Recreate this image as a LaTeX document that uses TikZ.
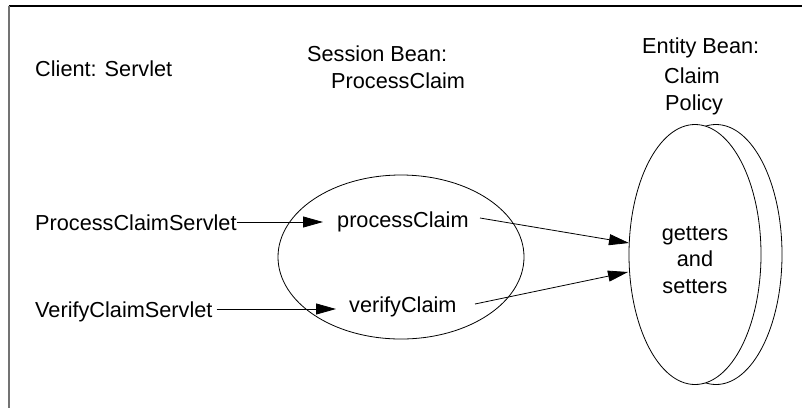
\documentclass[tikz,border=0pt]{standalone}
\usepackage{fontspec}
\setmainfont{Liberation Sans}
\usetikzlibrary{shapes.geometric,arrows.meta}
\tikzset{
  lbl/.style={anchor=base west, inner sep=0pt, font=\fontsize{21.7}{26}\selectfont},
  clbl/.style={anchor=base, inner sep=0pt, font=\fontsize{21.7}{26}\selectfont},
  bean/.style={draw, ellipse, inner sep=0pt, line width=0.8pt},
  arr/.style={line width=0.8pt, -{Triangle[length=20pt,width=11pt]}},
}
\begin{document}
\begin{tikzpicture}[x=1pt,y=-1pt]
\useasboundingbox (0,0) rectangle (802,408);
% frame
\coordinate (tl) at (8.5,6);
\coordinate (tr) at (802,6);
\coordinate (bl) at (8.5,408);
\draw[line width=1.3pt] (tl) -- (tr);
\draw[line width=2pt, color=black!55] (tl) -- (bl);

% headings
\node[lbl] (client) at (35,76) {Client: Servlet};
\node[lbl] (sb) at (307,61) {Session Bean:};
\node[lbl] (pcname) at (331,88) {ProcessClaim};
\node[lbl] (eb) at (642,53) {Entity Bean:};
\node[lbl] (claim) at (664,83) {Claim};
\node[lbl] (policy) at (665,110) {Policy};

% ellipses
\node[bean, minimum width=246pt, minimum height=164pt] (sess) at (401,257) {};
\node[bean, minimum width=132pt, minimum height=260pt] (entback) at (716,254.5) {};
\node[bean, fill=white, minimum width=132pt, minimum height=260pt] (ent) at (695,254.5) {};

% entity text
\node[clbl] (get) at (695,240) {getters};
\node[clbl] (and) at (695,266) {and};
\node[clbl] (set) at (695,293) {setters};

% client servlets and methods
\node[lbl] (pcs) at (35,230) {ProcessClaimServlet};
\node[lbl] (vcs) at (35,317) {VerifyClaimServlet};
\node[lbl] (pc) at (337,227) {processClaim};
\node[lbl] (vc) at (349,312) {verifyClaim};

% connector end points
\coordinate (pcin) at (323,222);
\coordinate (vcin) at (336,309);
\coordinate (pcout) at (480,218);
\coordinate (vcout) at (475,304);
\coordinate (entin1) at (629,243);
\coordinate (entin2) at (628,272);

\draw[arr] (pcs.east |- pcin) -- (pcin);
\draw[arr] ([xshift=4pt]vcs.east |- vcin) -- (vcin);
\draw[arr] (pcout) -- (entin1);
\draw[arr] (vcout) -- (entin2);
\end{tikzpicture}
\end{document}
